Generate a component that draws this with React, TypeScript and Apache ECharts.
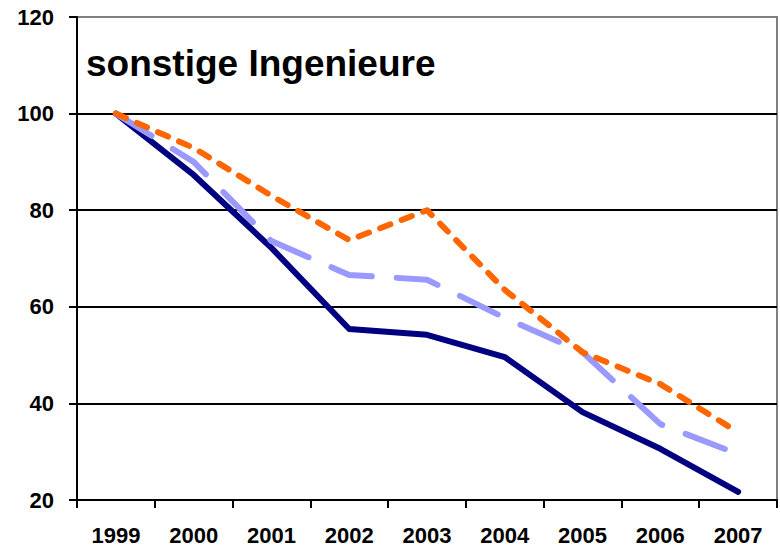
import React, { useEffect, useRef } from "react";
import * as echarts from "echarts";

const categories = ["1999", "2000", "2001", "2002", "2003", "2004", "2005", "2006", "2007"];
const navySeries = [100, 87.3, 72.2, 55.4, 54.2, 49.6, 38.2, 30.6, 21.7];
const lightBlueSeries = [100, 90.0, 73.6, 66.6, 65.6, 57.7, 50.6, 35.7, 29.5];
const orangeSeries = [100, 92.9, 83.0, 73.8, 80.0, 63.5, 50.6, 44.0, 34.0];
const titleText = "sonstige Ingenieure";

const FONT = "Liberation Sans, Arial, sans-serif";

export default function App() {
  const ref = useRef<HTMLDivElement>(null);
  useEffect(() => {
    document.body.style.margin = "0";
    const chart = echarts.init(ref.current!, null, { renderer: "svg" });
    chart.setOption({
      animation: false,
      backgroundColor: "#ffffff",
      grid: {
        left: 77,
        right: 3,
        top: 17,
        bottom: 48,
        show: true,
        borderColor: "#808080",
        borderWidth: 2,
      },
      graphic: [
        {
          type: "text",
          left: 86,
          top: 45,
          style: {
            text: titleText,
            font: `bold 37px ${FONT}`,
            fill: "#000",
          },
        },
      ],
      xAxis: {
        type: "category",
        data: categories,
        boundaryGap: true,
        axisLine: { lineStyle: { color: "#000", width: 2 } },
        axisTick: { show: true, length: 8, interval: 0, lineStyle: { color: "#000", width: 2 } },
        axisLabel: {
          color: "#000",
          fontFamily: FONT,
          fontWeight: "bold",
          fontSize: 22,
          margin: 24,
          interval: 0,
        },
        splitLine: { show: false },
      },
      yAxis: {
        type: "value",
        min: 20,
        max: 120,
        interval: 20,
        axisLine: { show: true, lineStyle: { color: "#000", width: 2 } },
        axisTick: { show: true, length: 8, lineStyle: { color: "#000", width: 2 } },
        axisLabel: {
          color: "#000",
          fontFamily: FONT,
          fontWeight: "bold",
          fontSize: 22,
          margin: 23,
        },
        splitLine: {
          show: true,
          lineStyle: {
            color: ["#000", "#000", "#000", "#000", "#000", "#808080"],
            width: 2,
          },
        },
      },
      series: [
        {
          type: "line",
          data: navySeries,
          symbol: "none",
          lineStyle: { color: "#000080", width: 6, cap: "round", join: "round" },
        },
        {
          type: "line",
          data: lightBlueSeries,
          symbol: "none",
          lineStyle: {
            color: "#9999FF",
            width: 6,
            type: [42, 25],
            cap: "round",
            join: "round",
          },
        },
        {
          type: "line",
          data: orangeSeries,
          symbol: "none",
          lineStyle: {
            color: "#FF6600",
            width: 6,
            type: [11, 12],
            cap: "round",
            join: "round",
          },
        },
      ],
    });
    return () => chart.dispose();
  }, []);
  return <div ref={ref} style={{ width: 780, height: 548 }} />;
}
